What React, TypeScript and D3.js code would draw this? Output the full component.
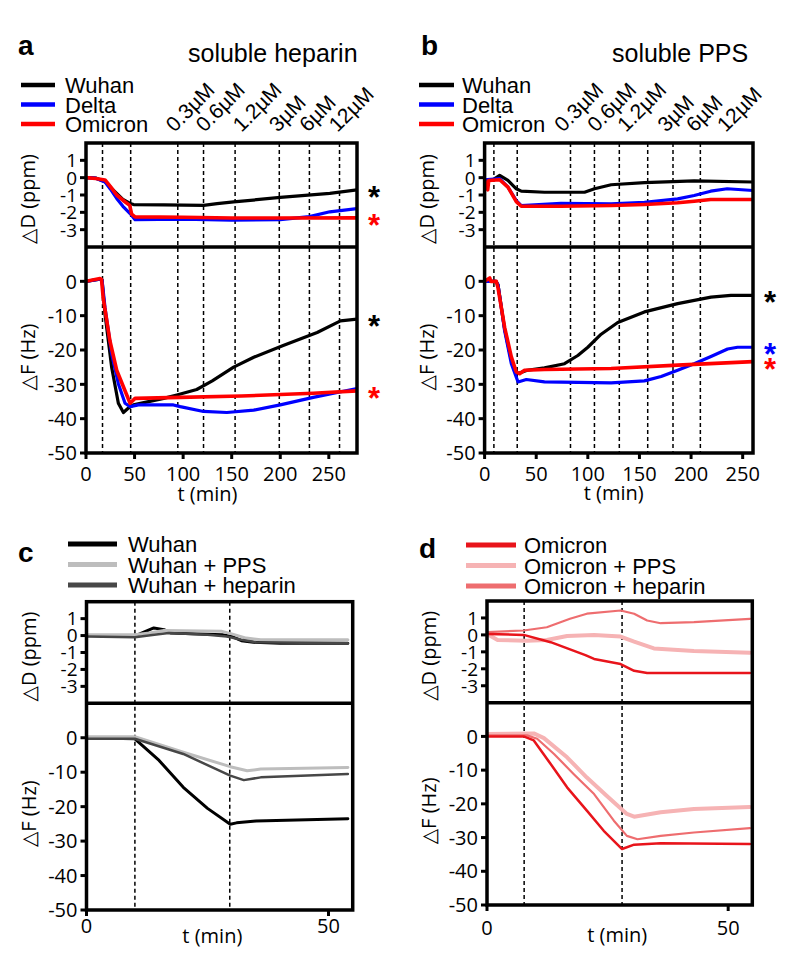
import * as d3 from "d3";

type Pt = [number, number];

// ---- a: soluble heparin (t in min) ----
const heparinSteps = [17, 46, 94.5, 121, 153.5, 199, 230, 261];
const heparinDoses = ["0.3µM", "0.6µM", "1.2µM", "3µM", "6µM", "12µM"];
const heparinDoseAt = [91, 122, 160, 197.5, 228.5, 259];

const hepWuhanD: Pt[] = [[0, 0], [10, -0.02], [19.6, -0.23], [25, -0.55], [31.6, -0.91], [38, -1.25], [45.4, -1.49], [49, -1.55], [80, -1.57], [121, -1.6], [135, -1.5], [152, -1.4], [200, -1.14], [251, -0.91], [279, -0.7]];
const hepDeltaD: Pt[] = [[0, 0], [10, -0.03], [19.6, -0.25], [25, -0.65], [31.6, -1.2], [38, -1.65], [45.4, -2.07], [50.5, -2.42], [100, -2.4], [150, -2.45], [200, -2.42], [230, -2.25], [251, -1.97], [279, -1.78]];
const hepOmicronD: Pt[] = [[0, 0], [10, -0.05], [19.6, -0.13], [25, -0.5], [31.6, -1.0], [38, -1.3], [45, -1.6], [47, -2.1], [50.5, -2.26], [100, -2.28], [150, -2.33], [200, -2.33], [279, -2.32]];

const hepWuhanF: Pt[] = [[0, 0], [14, 0.6], [16.5, 0.4], [19.6, -9.6], [26.4, -25], [33.3, -35.5], [38.5, -38.2], [43.7, -36.9], [48.8, -36], [80, -34.1], [93.5, -33.1], [114, -31.5], [130, -29], [152, -25], [172.7, -22.1], [203, -18.7], [238, -14.9], [262, -11.5], [279, -11]];
const hepDeltaF: Pt[] = [[0, 0], [14, 0.6], [16.5, 0.4], [19.6, -7.7], [26.4, -21.1], [33.3, -29.8], [40.2, -35.5], [45.4, -36.5], [54, -36], [90, -36], [97, -36.5], [121, -37.9], [145, -38.2], [172.7, -37.5], [200, -36], [234, -33.8], [279, -31.2]];
const hepOmicronF: Pt[] = [[0, 0], [14.4, 0.8], [16, 0.5], [17.7, -4.8], [24.6, -17.3], [31.6, -25.9], [38.5, -30.7], [45.4, -35.5], [50.5, -34.1], [97, -33.8], [160, -33.4], [234, -32.6], [279, -31.9]];

// ---- b: soluble PPS ----
const ppsSteps = [9, 31.6, 83.2, 106.4, 130.5, 158, 182.5, 209];
const ppsDoses = ["0.3µM", "0.6µM", "1.2µM", "3µM", "6µM", "12µM"];
const ppsDoseAt = [76, 108, 137, 176, 203.5, 233.5];

const ppsWuhanD: Pt[] = [[0, -0.16], [8, -0.12], [14.6, 0.13], [22.6, -0.16], [30.7, -0.64], [35.5, -0.78], [58, -0.84], [96.8, -0.84], [106.5, -0.64], [122.6, -0.41], [154.8, -0.29], [203, -0.19], [260, -0.25]];
const ppsDeltaD: Pt[] = [[0, -0.12], [14.6, -0.06], [22.6, -0.54], [30.7, -1.32], [35.5, -1.61], [74, -1.48], [122.6, -1.51], [154.8, -1.42], [187, -1.22], [203, -1.03], [219, -0.78], [235, -0.64], [260, -0.74]];
const ppsOmicronD: Pt[] = [[0, -0.16], [3, -0.7], [4, -0.16], [14.6, -0.12], [22.6, -0.54], [30.7, -1.38], [35.5, -1.65], [74, -1.65], [122.6, -1.61], [154.8, -1.55], [187, -1.45], [203, -1.36], [219, -1.26], [260, -1.26]];

const ppsWuhanF: Pt[] = [[0, 0], [11, 0], [13, -1], [19.4, -13.9], [25.9, -23], [31.7, -26.9], [41.3, -25.9], [58, -25.2], [77.4, -24], [90.3, -21.6], [100, -19.2], [112.9, -15.4], [129, -12], [154.8, -8.9], [187, -6.5], [219.3, -4.6], [238.6, -4.1], [260, -4.1]];
const ppsDeltaF: Pt[] = [[0, 0], [11, 0], [13, -1], [19.4, -14.4], [25.9, -24], [32.4, -29.3], [40.4, -28.6], [58, -29.3], [122.6, -29.6], [154.8, -29], [171, -27.7], [187, -25.9], [203, -24], [219.3, -21.9], [235.4, -19.7], [245, -19.2], [260, -19.2]];
const ppsOmicronF: Pt[] = [[0, 0], [5, 1], [6, 0], [11.3, 0], [13, -1.9], [19.4, -13.4], [25.9, -22], [30.7, -26.4], [33.9, -26.9], [38.7, -25.9], [58, -25.7], [122.6, -25.4], [187, -24.4], [260, -23.4]];

// ---- c: Wuhan with polymers ----
const wuhanSteps = [10, 29.6];
const wuhanD: Pt[] = [[0, 0], [10, 0], [11, 0.1], [13.9, 0.45], [16, 0.35], [17.5, 0.15], [28, 0.05], [30, -0.05], [32, -0.3], [34.5, -0.4], [40, -0.45], [54, -0.45]];
const wuhanPpsD: Pt[] = [[0, 0.05], [10, 0.05], [13, 0.15], [16, 0.3], [28, 0.25], [30, 0.1], [33, -0.15], [36, -0.25], [54, -0.25]];
const wuhanHepD: Pt[] = [[0, -0.05], [10, -0.1], [14, 0.05], [17, 0.15], [25, 0.05], [29, -0.05], [32, -0.25], [35, -0.4], [54, -0.45]];
const wuhanF: Pt[] = [[0, 0], [10, -0.3], [15, -6.6], [20, -14.4], [25, -20.5], [29.7, -25.1], [31, -24.7], [35, -24.2], [54, -23.5]];
const wuhanPpsF: Pt[] = [[0, 0.3], [10, 0.3], [20, -4.2], [29.7, -8.4], [33.2, -9.6], [36, -9.1], [54, -8.6]];
const wuhanHepF: Pt[] = [[0, -0.3], [10, -0.3], [20, -4.7], [29.7, -11], [32.5, -12.3], [36, -11.5], [54, -10.5]];

// ---- d: Omicron with polymers ----
const omiSteps = [7.7, 28];
const omiD: Pt[] = [[0, 0.06], [7.6, 0], [13.2, -0.43], [20.4, -1.19], [22.2, -1.42], [27.7, -1.72], [30.5, -2.12], [33.2, -2.25], [54.5, -2.25]];
const omiPpsD: Pt[] = [[0, 0.05], [2.2, -0.3], [8.3, -0.35], [12.4, -0.3], [16.6, -0.06], [22.2, 0], [27.7, -0.1], [30.5, -0.4], [34.6, -0.8], [42.9, -0.95], [54.5, -1.05]];
const omiHepD: Pt[] = [[0, 0.16], [7.6, 0.26], [12.4, 0.45], [17.2, 0.95], [20.7, 1.25], [27.7, 1.44], [30.5, 1.25], [33.2, 0.85], [36, 0.69], [42.9, 0.75], [54.5, 0.95]];
const omiF: Pt[] = [[0, 0], [7.6, 0], [9.7, -1.2], [13.2, -8.2], [16.6, -15.1], [20.7, -22], [24.2, -28], [28, -33.4], [30.5, -32.1], [36, -31.7], [54.5, -31.9]];
const omiPpsF: Pt[] = [[0, 0.7], [9.7, 0.9], [11.8, -0.5], [16.6, -6.2], [20.7, -12.2], [24.8, -17.6], [29, -23], [30.5, -23.8], [36, -22.5], [42.9, -21.5], [54.5, -20.9]];
const omiHepF: Pt[] = [[0, 0.3], [8.3, 0.3], [10.4, -0.7], [13.9, -5.2], [18, -11.2], [22.2, -17.1], [26.3, -25], [29, -29.5], [31.2, -30.5], [36, -29.5], [42.9, -28.5], [54.5, -27.2]];

const variantNames = ["Wuhan", "Delta", "Omicron"];
const variantColors = ["#000000", "#0000ff", "#ff0000"];
const wuhanNames = ["Wuhan", "Wuhan + PPS", "Wuhan + heparin"];
const wuhanColors = ["#000000", "#bdbdbd", "#474747"];
const omiNames = ["Omicron", "Omicron + PPS", "Omicron + heparin"];
const omiColors = ["#e8141b", "#f6b3b4", "#ee6d6f"];

const dTicks = [1, 0, -1, -2, -3];
const fTicks = [0, -10, -20, -30, -40, -50];

const SANS = "'Liberation Sans', Arial, sans-serif";
const AXF = "'Open Sans', 'DejaVu Sans', sans-serif";

type Series = { color: string; width: number; d: Pt[]; f: Pt[]; starD?: boolean; starF?: boolean };

function Panel(p: {
  id: string; left: number; right: number; top: number; mid: number; bottom: number;
  tMax: number; xTicks: number[]; steps: number[]; series: Series[];
  tickBase: number; tLabelBase: number; tLabelAt: number;
  doses?: string[]; doseAt?: number[];
}) {
  const x = d3.scaleLinear().domain([0, p.tMax]).range([p.left, p.right]);
  const yD = d3.scaleLinear().domain([-4, 2]).range([p.mid, p.top]);
  const yF = d3.scaleLinear().domain([-50, 10]).range([p.bottom, p.mid]);
  const lineD = d3.line<Pt>().x((d) => x(d[0])).y((d) => yD(d[1]));
  const lineF = d3.line<Pt>().x((d) => x(d[0])).y((d) => yF(d[1]));
  const lw = 3.5;
  const star = (key: string, y: number, color: string) => (
    <text key={key} x={p.right + 17} y={y + 18} textAnchor="middle" fontFamily={SANS} fontWeight="bold" fontSize={31} fill={color}>*</text>
  );
  return (
    <g>
      <defs>
        <clipPath id={p.id + "-clipD"}>
          <rect x={p.left} y={p.top} width={p.right - p.left} height={p.mid - p.top} />
        </clipPath>
        <clipPath id={p.id + "-clipF"}>
          <rect x={p.left} y={p.mid} width={p.right - p.left} height={p.bottom - p.mid} />
        </clipPath>
      </defs>
      {p.steps.map((s, i) => (
        <line key={"s" + i} x1={x(s)} x2={x(s)} y1={p.top} y2={p.bottom} stroke="#000" strokeWidth={1.5} strokeDasharray="4,3" />
      ))}
      <g clipPath={`url(#${p.id}-clipD)`}>
        {p.series.map((s, i) => (
          <path key={"d" + i} d={lineD(s.d) || ""} fill="none" stroke={s.color} strokeWidth={s.width} strokeLinejoin="round" strokeLinecap="round" />
        ))}
      </g>
      <g clipPath={`url(#${p.id}-clipF)`}>
        {p.series.map((s, i) => (
          <path key={"f" + i} d={lineF(s.f) || ""} fill="none" stroke={s.color} strokeWidth={s.width} strokeLinejoin="round" strokeLinecap="round" />
        ))}
      </g>
      <rect x={p.left} y={p.top} width={p.right - p.left} height={p.bottom - p.top} fill="none" stroke="#000" strokeWidth={lw} />
      <line x1={p.left} x2={p.right} y1={p.mid} y2={p.mid} stroke="#000" strokeWidth={lw} />
      {dTicks.map((v) => (
        <g key={"dt" + v}>
          <line x1={p.left - 6} x2={p.left} y1={yD(v)} y2={yD(v)} stroke="#000" strokeWidth={3} />
          <text x={p.left - 9} y={yD(v)} dy="0.36em" textAnchor="end" fontFamily={AXF} fontSize={19}>{v}</text>
        </g>
      ))}
      {fTicks.map((v) => (
        <g key={"ft" + v}>
          <line x1={p.left - 6} x2={p.left} y1={yF(v)} y2={yF(v)} stroke="#000" strokeWidth={3} />
          <text x={p.left - 9} y={yF(v)} dy="0.36em" textAnchor="end" fontFamily={AXF} fontSize={20}>{v}</text>
        </g>
      ))}
      {p.xTicks.map((v) => (
        <g key={"xt" + v}>
          <line x1={x(v)} x2={x(v)} y1={p.bottom} y2={p.bottom + 6} stroke="#000" strokeWidth={3} />
          <text x={x(v)} y={p.tickBase} textAnchor="middle" fontFamily={AXF} fontSize={20}>{v}</text>
        </g>
      ))}
      <text x={x(p.tLabelAt)} y={p.tLabelBase} textAnchor="middle" fontFamily={AXF} fontSize={20}>t (min)</text>
      <text transform={`translate(${p.left - 51},${(p.top + p.mid) / 2 + 4}) rotate(-90)`} textAnchor="middle" fontFamily={AXF} fontSize={20}>△D (ppm)</text>
      <text transform={`translate(${p.left - 51},${(p.mid + p.bottom) / 2 + 7}) rotate(-90)`} textAnchor="middle" fontFamily={AXF} fontSize={20}>△F (Hz)</text>
      {p.series.map((s, i) => (s.starD ? star("sd" + i, yD(s.d[s.d.length - 1][1]), s.color) : null))}
      {p.series.map((s, i) => (s.starF ? star("sf" + i, yF(s.f[s.f.length - 1][1]), s.color) : null))}
      {p.doses && p.doseAt
        ? p.doses.map((d, i) => (
            <text key={"dose" + i} transform={`translate(${x(p.doseAt![i])},${p.top - 10}) rotate(-45)`} fontFamily={SANS} fontSize={21}>{d}</text>
          ))
        : null}
    </g>
  );
}

function Legend(p: { x1: number; x2: number; tx: number; y0: number; dy: number; names: string[]; colors: string[]; width: number }) {
  return (
    <g>
      {p.names.map((n, i) => (
        <g key={n}>
          <line x1={p.x1} x2={p.x2} y1={p.y0 + i * p.dy} y2={p.y0 + i * p.dy} stroke={p.colors[i]} strokeWidth={p.width} />
          <text x={p.tx} y={p.y0 + i * p.dy + 8} fontFamily={SANS} fontSize={22}>{n}</text>
        </g>
      ))}
    </g>
  );
}

export default function App() {
  const hepSeries: Series[] = [
    { color: variantColors[0], width: 3.2, d: hepWuhanD, f: hepWuhanF, starD: true, starF: true },
    { color: variantColors[1], width: 3.2, d: hepDeltaD, f: hepDeltaF },
    { color: variantColors[2], width: 3.6, d: hepOmicronD, f: hepOmicronF, starD: true, starF: true },
  ];
  const ppsSeries: Series[] = [
    { color: variantColors[0], width: 3.2, d: ppsWuhanD, f: ppsWuhanF, starF: true },
    { color: variantColors[1], width: 3.2, d: ppsDeltaD, f: ppsDeltaF, starF: true },
    { color: variantColors[2], width: 3.6, d: ppsOmicronD, f: ppsOmicronF, starF: true },
  ];
  const wuhanSeries: Series[] = [
    { color: wuhanColors[0], width: 3, d: wuhanD, f: wuhanF },
    { color: wuhanColors[1], width: 3, d: wuhanPpsD, f: wuhanPpsF },
    { color: wuhanColors[2], width: 2.5, d: wuhanHepD, f: wuhanHepF },
  ];
  const omiSeries: Series[] = [
    { color: omiColors[1], width: 4, d: omiPpsD, f: omiPpsF },
    { color: omiColors[2], width: 2.2, d: omiHepD, f: omiHepF },
    { color: omiColors[0], width: 2.5, d: omiD, f: omiF },
  ];
  return (
    <svg width={788} height={969} style={{ position: "absolute", left: 0, top: 0, background: "#fff" }}>
      <rect width={788} height={969} fill="#fff" />
      {/* a */}
      <text x={18} y={55} fontFamily={SANS} fontWeight="bold" fontSize={28}>a</text>
      <text x={188} y={62} fontFamily={SANS} fontSize={25}>soluble heparin</text>
      <Legend x1={21} x2={55} tx={65} y0={85} dy={19.5} names={variantNames} colors={variantColors} width={4.5} />
      <Panel id="a" left={86} right={357} top={143} mid={247} bottom={453} tMax={279} xTicks={[0, 50, 100, 150, 200, 250]}
        steps={heparinSteps} series={hepSeries} tickBase={481} tLabelBase={501} tLabelAt={125}
        doses={heparinDoses} doseAt={heparinDoseAt} />
      {/* b */}
      <text x={421} y={55} fontFamily={SANS} fontWeight="bold" fontSize={28}>b</text>
      <text x={612} y={62} fontFamily={SANS} fontSize={25}>soluble PPS</text>
      <Legend x1={419} x2={454} tx={462} y0={85} dy={19.5} names={variantNames} colors={variantColors} width={4.5} />
      <Panel id="b" left={484.6} right={753} top={143} mid={247} bottom={453} tMax={260} xTicks={[0, 50, 100, 150, 200, 250]}
        steps={ppsSteps} series={ppsSeries} tickBase={481} tLabelBase={500} tLabelAt={125}
        doses={ppsDoses} doseAt={ppsDoseAt} />
      {/* c */}
      <text x={18} y={562} fontFamily={SANS} fontWeight="bold" fontSize={28}>c</text>
      <Legend x1={68} x2={117} tx={128} y0={544} dy={20.5} names={wuhanNames} colors={wuhanColors} width={5} />
      <Panel id="c" left={86.5} right={352.7} top={601.7} mid={703.3} bottom={910} tMax={55} xTicks={[0, 50]}
        steps={wuhanSteps} series={wuhanSeries} tickBase={933} tLabelBase={943} tLabelAt={26} />
      {/* d */}
      <text x={419} y={558} fontFamily={SANS} fontWeight="bold" fontSize={28}>d</text>
      <Legend x1={466} x2={516} tx={524} y0={545} dy={20.5} names={omiNames} colors={omiColors} width={5} />
      <Panel id="d" left={487} right={752.3} top={601} mid={702.7} bottom={905} tMax={55} xTicks={[0, 50]}
        steps={omiSteps} series={omiSeries} tickBase={935} tLabelBase={942} tLabelAt={27} />
    </svg>
  );
}
